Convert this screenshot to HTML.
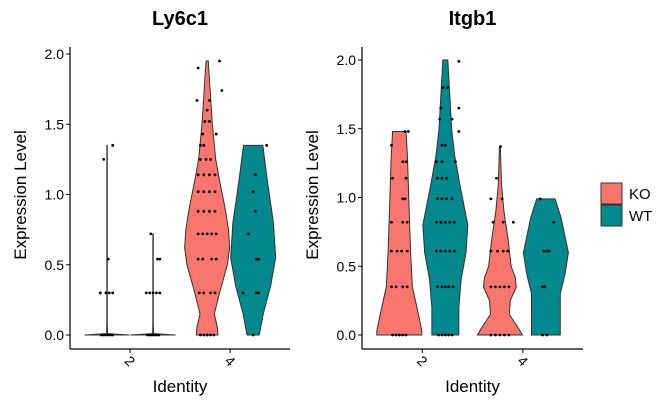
<!DOCTYPE html>
<html><head><meta charset="utf-8"><style>
body{margin:0;background:#fff}
svg{font-family:"Liberation Sans",Arial,sans-serif}
</style></head><body>
<svg id="c" width="672" height="415" viewBox="0 0 672 415"></svg>
<script>
const genes = ["Ly6c1","Itgb1"];
const groups = ["2","4"];
const conditions = ["KO","WT"];
const yTicks = [0,0.5,1.0,1.5,2.0];
const yTickLabels = ["0.0","0.5","1.0","1.5","2.0"];
// violin profiles: [level, relative half-width 0..1]
const ly6c1_KO2 = [[0,1],[0.01,0.02],[0.1,0.01],[1.35,0.01]];
const ly6c1_WT2 = [[0,1],[0.01,0.02],[0.1,0.01],[0.72,0.01]];
const ly6c1_KO4 = [[0,0.48],[0.05,0.46],[0.15,0.32],[0.3,0.55],[0.5,0.9],[0.62,1],[0.75,0.95],[0.9,0.8],[1.1,0.55],[1.25,0.38],[1.5,0.23],[1.7,0.15],[1.95,0.05]];
const ly6c1_WT4 = [[0,0.27],[0.15,0.45],[0.35,0.78],[0.55,1],[0.8,0.9],[1.1,0.63],[1.35,0.43]];
const itgb1_KO2 = [[0,1],[0.03,1],[0.15,0.85],[0.35,0.58],[0.6,0.5],[1.0,0.42],[1.3,0.36],[1.48,0.3]];
const itgb1_WT2 = [[0,0.6],[0.2,0.6],[0.4,0.7],[0.6,0.92],[0.8,1],[1.1,0.64],[1.3,0.42],[1.5,0.28],[1.8,0.18],[2.0,0.11]];
const itgb1_KO4 = [[0,1],[0.05,0.82],[0.15,0.42],[0.25,0.46],[0.35,0.73],[0.42,0.68],[0.5,0.5],[0.7,0.36],[0.9,0.18],[1.1,0.07],[1.37,0.02]];
const itgb1_WT4 = [[0,0.64],[0.1,0.64],[0.3,0.64],[0.45,0.86],[0.6,1],[0.85,0.68],[0.99,0.41]];
// points: [value, jitter -1..1]
const ly6c1_KO2_pts = [[0,-0.5],[0,-0.3],[0,-0.1],[0,0.1],[0,0.3],[0,0.5],[0.3,-0.6],[0.3,-0.1],[0.3,0.2],[0.3,0.5],[0.54,0.1],[1.25,-0.3],[1.35,0.5]];
const ly6c1_WT2_pts = [[0,-0.5],[0,-0.3],[0,-0.1],[0,0.1],[0,0.3],[0,0.5],[0.3,-0.6],[0.3,-0.3],[0.3,0],[0.3,0.3],[0.3,0.6],[0.54,0.4],[0.54,0.6],[0.72,-0.2]];
const ly6c1_KO4_pts = [[0,-0.6],[0,-0.3],[0,0],[0,0.3],[0,0.6],[0.3,-0.7],[0.3,-0.3],[0.3,0.3],[0.3,0.7],[0.54,-0.8],[0.54,-0.4],[0,0],[0.54,0.4],[0.54,0.8],[0.72,-0.8],[0.72,-0.4],[0.72,0],[0.72,0.4],[0.72,0.8],[0.88,-0.8],[0.88,-0.3],[0.88,0.2],[0.88,0.7],[1.02,-0.8],[1.02,-0.3],[1.02,0.2],[1.02,0.7],[1.14,-0.8],[1.14,-0.3],[1.14,0.2],[1.14,0.7],[1.25,-0.6],[1.25,-0.1],[1.25,0.3],[1.35,-0.6],[1.35,-0.3],[1.43,-0.4],[1.43,0.8],[1.52,-0.2],[1.52,0.2],[1.6,0],[1.67,-0.9],[1.67,0.2],[1.74,1.3],[1.9,-0.8],[1.95,1.1]];
const ly6c1_WT4_pts = [[0,0],[0.3,-0.9],[0.3,0.3],[0.3,0.5],[0.54,0.3],[0.54,0.5],[0.72,-0.4],[0.88,0.2],[1.02,0],[1.14,0.2],[1.35,1.2]];
const itgb1_KO2_pts = [[0,-0.6],[0,-0.3],[0,0],[0,0.3],[0,0.6],[0.35,-0.7],[0.35,-0.3],[0,0],[0.35,0.3],[0.35,0.7],[0.61,-0.7],[0.61,-0.2],[0.61,0.2],[0.61,0.7],[0.82,-0.7],[0.82,0.3],[0.82,0.7],[0.99,0.3],[0.99,0.5],[1.14,-0.6],[1.14,0.6],[1.26,0.3],[1.26,0.6],[1.38,-0.7],[1.48,0.5],[1.48,0.8]];
const itgb1_WT2_pts = [[0,-0.6],[0,-0.3],[0,0],[0,0.3],[0,0.6],[0.35,-0.7],[0.35,-0.3],[0.35,0],[0.35,0.3],[0.35,0.7],[0.61,-0.8],[0.61,-0.4],[0.61,0],[0.61,0.4],[0.61,0.8],[0.82,-0.8],[0.82,-0.4],[0.82,0],[0.82,0.4],[0.82,0.8],[0.99,-0.7],[0.99,-0.3],[0.99,0.1],[0.99,0.6],[1.14,-0.7],[1.14,-0.3],[1.14,0.1],[1.26,-0.8],[1.26,-0.3],[1.26,0.9],[1.38,-0.3],[1.38,0],[1.48,1.2],[1.57,-0.5],[1.57,0.6],[1.65,-0.4],[1.65,1.2],[1.8,-0.2],[1.8,0.2],[1.99,1.2]];
const itgb1_KO4_pts = [[0,-0.8],[0,-0.4],[0,0],[0,0.4],[0,0.8],[0.35,-0.8],[0.35,-0.4],[0.35,0],[0.35,0.4],[0.35,0.8],[0.61,-0.8],[0.61,-0.2],[0.61,0.3],[0.61,0.7],[0.82,-0.6],[0.82,0.3],[0.82,1.2],[0.99,-0.8],[0.99,0.2],[1.14,-0.3],[1.37,0.05]];
const itgb1_WT4_pts = [[0,-0.3],[0,0.1],[0.35,-0.3],[0.35,-0.1],[0.61,-0.2],[0.61,0.1],[0.61,0.3],[0.82,0.7],[0.99,-0.5]];

const panels = [
 {name:genes[0], x0:70, x1:290, ymax:2.0, yTop:54, v:[ly6c1_KO2,ly6c1_WT2,ly6c1_KO4,ly6c1_WT4], p:[ly6c1_KO2_pts,ly6c1_WT2_pts,ly6c1_KO4_pts,ly6c1_WT4_pts]},
 {name:genes[1], x0:362, x1:583, ymax:2.0, yTop:60, v:[itgb1_KO2,itgb1_WT2,itgb1_KO4,itgb1_WT4], p:[itgb1_KO2_pts,itgb1_WT2_pts,itgb1_KO4_pts,itgb1_WT4_pts]}
];
const colors = {KO:"#F8766D", WT:"#03888E"};
const svg = document.getElementById('c');
const NS = "http://www.w3.org/2000/svg";
function el(tag, attrs, parent){const e=document.createElementNS(NS,tag);for(const k in attrs)e.setAttribute(k,attrs[k]);(parent||svg).appendChild(e);return e;}
const yBase = 335, axisY = 349, halfW = 22.5;
panels.forEach((P,pi)=>{
  const g = el('g',{});
  
  
  const ys = v => yBase - (v/P.ymax)*(yBase-P.yTop);
  const groupX = i => P.x0 + (P.x1-P.x0)*(0.273 + i*0.455);
  const cx = k => groupX(Math.floor(k/2)) + (k%2===0?-23:23);
  P.v.forEach((prof,k)=>{
    const c = cx(k);
    let d = "M"+(c-prof[0][1]*halfW)+","+ys(prof[0][0]);
    prof.forEach(q=>{d+=" L"+(c-q[1]*halfW)+","+ys(q[0]);});
    for(let i=prof.length-1;i>=0;i--){d+=" L"+(c+prof[i][1]*halfW)+","+ys(prof[i][0]);}
    d+="Z";
    const path = el('path',{d:d,fill:colors[conditions[k%2]],stroke:"#333","stroke-width":1},g);
    
    
  });
  P.p.forEach((pts,k)=>{
    const c = cx(k);
    pts.forEach(pt=>{
      const dot = el('circle',{cx:c+pt[1]*halfW*0.5,cy:ys(pt[0]),r:1.4,fill:"#000"},g);
      
      
    });
  });
  const ya = el('line',{x1:P.x0,y1:47,x2:P.x0,y2:axisY,stroke:"#000","stroke-width":1.2},g);
   
  const xa = el('line',{x1:P.x0,y1:axisY,x2:P.x1,y2:axisY,stroke:"#000","stroke-width":1.2},g);
   
  yTicks.forEach((t,i)=>{
    el('line',{x1:P.x0-4,y1:ys(t),x2:P.x0,y2:ys(t),stroke:"#000"},g);
    const tx = el('text',{x:P.x0-6,y:ys(t)+5,"text-anchor":"end","font-size":14,fill:"#000"},g);
    tx.textContent = yTickLabels[i];
     
  });
  groups.forEach((gname,i)=>{
    const x = groupX(i);
    el('line',{x1:x,y1:axisY,x2:x,y2:axisY+4,stroke:"#000"},g);
    const tx = el('text',{x:x,y:axisY+17,"text-anchor":"middle","font-size":14,transform:`rotate(45 ${x} ${axisY+12})`},g);
    tx.textContent = gname;
     
  });
  const mid = (P.x0+P.x1)/2;
  const title = el('text',{x:mid,y:25,"text-anchor":"middle","font-size":20,"font-weight":"bold"},g);
  title.textContent = P.name;
   
  const xt = el('text',{x:mid,y:392,"text-anchor":"middle","font-size":17},g);
  xt.textContent = "Identity";
   
  const yx = P.x0-44, yy = 195;
  const yt = el('text',{x:yx,y:yy,"text-anchor":"middle","font-size":17,transform:`rotate(-90 ${yx} ${yy})`},g);
  yt.textContent = "Expression Level";
   
});
conditions.forEach((c,i)=>{
  const lg = el('g',{});
  
  
  el('rect',{x:601,y:183+i*22,width:21,height:21,fill:colors[c],stroke:"#333","stroke-width":1},lg);
  const t = el('text',{x:629,y:199+i*22,"font-size":15},lg);
  t.textContent = c;
});
</script>
</body></html>
